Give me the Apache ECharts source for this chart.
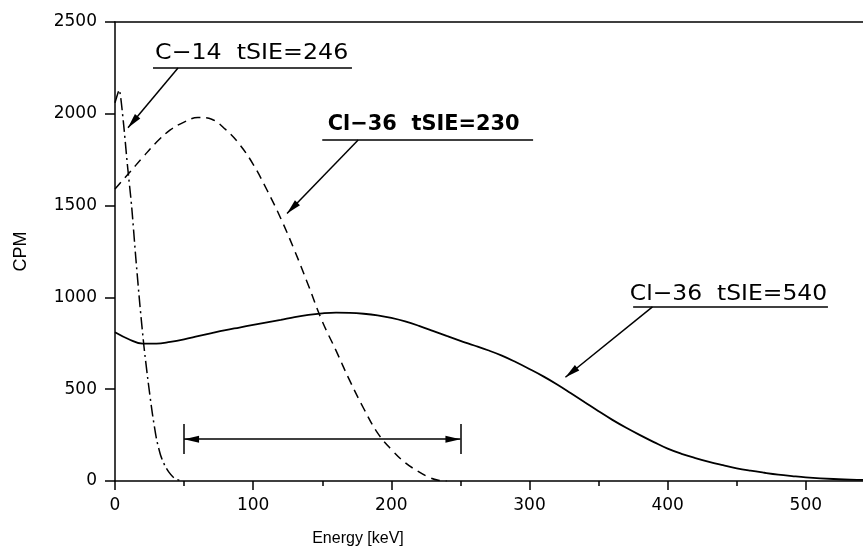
<!DOCTYPE html>
<html>
<head>
<meta charset="utf-8">
<title>CPM vs Energy</title>
<script src="https://cdn.jsdelivr.net/npm/echarts@6/dist/echarts.min.js"></script>
<style>
  html, body { margin: 0; padding: 0; background: #fff; }
  #main { width: 863px; height: 551px; }
</style>
</head>
<body>
<div id="main"></div>
<script>
// C-14, tSIE=246 (dash-dot)
const c14Energy = [0, 3, 6, 9, 12, 15, 18, 21, 24, 27, 30, 33, 36, 39, 42, 45, 48];
const c14Cpm = [2060, 2130, 1960, 1720, 1500, 1220, 960, 730, 540, 370, 230, 140, 85, 48, 22, 8, 0];

// Cl-36, tSIE=230 (dashed)
const cl230Energy = [0, 10, 20, 30, 40, 50, 60, 70, 80, 90, 100, 110, 120, 130, 140, 150, 160, 170, 180, 190, 200, 210, 220, 228, 234, 240];
const cl230Cpm = [1590, 1676, 1762, 1845, 1912, 1955, 1980, 1970, 1915, 1835, 1725, 1585, 1430, 1255, 1065, 870, 710, 545, 395, 262, 172, 100, 50, 18, 4, 0];

// Cl-36, tSIE=540 (solid)
const cl540Energy = [0, 10, 20, 30, 40, 50, 60, 70, 80, 90, 100, 110, 120, 130, 140, 150, 160, 170, 180, 190,
  200, 210, 220, 230, 240, 250, 260, 270, 280, 290, 300, 310, 320, 330, 340, 350, 360, 370, 380, 390,
  400, 410, 420, 430, 440, 450, 460, 470, 480, 490, 500, 520, 540, 560, 600];
const cl540Cpm = [810, 772, 748, 748, 758, 772, 789, 806, 822, 836, 850, 864, 878, 893, 905, 913, 917, 916, 911, 902,
  888, 869, 845, 818, 790, 763, 738, 712, 683, 648, 610, 570, 526, 478, 429, 380, 333, 290, 250, 212,
  176, 148, 125, 104, 86, 69, 56, 45, 35, 27, 20, 11, 6, 3, 1];

const xTickStep = 100;
const yTickStep = 500;

// annotation texts and where they sit (data coords)
const labelTexts = ['C\u221214  tSIE=246', 'Cl\u221236  tSIE=230', 'Cl\u221236  tSIE=540'];
const labelAnchors = [[29, 2329], [154, 1943], [372.6, 1019]];
const labelStretch = [1.078, 0.95, 1.065];
const labelWeight = ['normal', 'bold', 'normal'];
// underline: [fromE, toE, cpm]
const underlines = [[27.5, 171.5, 2250], [150, 302.6, 1857], [375, 516, 948]];
// arrows: [fromE, fromCpm, tipE, tipCpm]
const arrows = [[45.6, 2250, 9.4, 1924], [176, 1857, 124.5, 1457], [389, 948, 326, 565]];
// range bracket
const rangeFrom = 50, rangeTo = 250, rangeCpm = 228, rangeBarLow = 147, rangeBarHigh = 310;

const pairs = (xs, ys) => xs.map((x, i) => [x, ys[i]]);
const black = '#000';
const axisLineStyle = { color: black, width: 1.5 };
const plainNumber = v => String(v);

const chart = echarts.init(document.getElementById('main'));

const markLines = [];
underlines.forEach(u => markLines.push([{ coord: [u[0], u[2]] }, { coord: [u[1], u[2]] }]));
arrows.forEach(a => markLines.push([{ coord: [a[0], a[1]] }, { coord: [a[2], a[3]], symbol: 'triangle' }]));
markLines.push([{ coord: [rangeFrom, rangeCpm], symbol: 'triangle' }, { coord: [rangeTo, rangeCpm], symbol: 'triangle' }]);
markLines.push([{ coord: [rangeFrom, rangeBarLow] }, { coord: [rangeFrom, rangeBarHigh] }]);
markLines.push([{ coord: [rangeTo, rangeBarLow] }, { coord: [rangeTo, rangeBarHigh] }]);

chart.setOption({
  animation: false,
  color: [black],
  grid: { left: 115, right: -81, top: 22, bottom: 70, containLabel: false, outerBoundsMode: 'none' },
  xAxis: [{
    type: 'value', min: 0, max: 600, interval: xTickStep,
    axisLine: { onZero: false, lineStyle: axisLineStyle },
    axisTick: { length: 9, lineStyle: axisLineStyle },
    minorTick: { show: true, splitNumber: 2, length: 5, lineStyle: axisLineStyle },
    axisLabel: { color: black, fontFamily: 'DejaVu Sans', fontSize: 17, margin: 16, formatter: plainNumber },
    splitLine: { show: false },
    name: 'Energy [keV]', nameLocation: 'middle', nameGap: 50,
    nameTextStyle: { color: black, fontFamily: 'Liberation Sans', fontSize: 16, padding: [0, 343, 0, 0] }
  }, {
    type: 'value', position: 'top', min: 0, max: 600,
    axisLine: { show: true, onZero: false, lineStyle: axisLineStyle },
    axisTick: { show: false }, axisLabel: { show: false }, splitLine: { show: false }
  }],
  yAxis: {
    type: 'value', min: 0, max: 2500, interval: yTickStep,
    axisLine: { show: true, onZero: false, lineStyle: axisLineStyle },
    axisTick: { show: true, length: 10, lineStyle: axisLineStyle },
    axisLabel: { color: black, fontFamily: 'DejaVu Sans', fontSize: 17, margin: 18, formatter: plainNumber },
    splitLine: { show: false },
    name: 'CPM', nameLocation: 'middle', nameGap: 85,
    nameTextStyle: { color: black, fontFamily: 'Liberation Sans', fontSize: 18 }
  },
  series: [{
    name: 'C-14 tSIE=246', type: 'line', symbol: 'none', smooth: 0.2,
    data: pairs(c14Energy, c14Cpm),
    lineStyle: { color: black, width: 1.5, type: [12, 4, 2, 4] }
  }, {
    name: 'Cl-36 tSIE=230', type: 'line', symbol: 'none', smooth: 0.4,
    data: pairs(cl230Energy, cl230Cpm),
    lineStyle: { color: black, width: 1.5, type: [9, 6] }
  }, {
    name: 'Cl-36 tSIE=540', type: 'line', symbol: 'none', smooth: 0.4,
    data: pairs(cl540Energy, cl540Cpm),
    lineStyle: { color: black, width: 1.8, type: 'solid' },
    markLine: {
      silent: true, symbol: 'none', symbolSize: [7, 15], symbolOffset: [[0, 7.5], [0, 7.5]],
      label: { show: false }, emphasis: { disabled: true },
      lineStyle: { color: black, width: 1.5, type: 'solid' },
      itemStyle: { color: black },
      data: markLines
    }
  }]
});

chart.setOption({
  graphic: labelTexts.map((text, i) => {
    const p = chart.convertToPixel({ seriesIndex: 0 }, labelAnchors[i]);
    return {
      type: 'text', x: p[0], y: p[1], scaleX: labelStretch[i], silent: true,
      style: {
        text: text, fill: black, fontFamily: 'DejaVu Sans', fontSize: 22,
        fontWeight: labelWeight[i], align: 'left', verticalAlign: 'middle'
      }
    };
  })
});
</script>
</body>
</html>
